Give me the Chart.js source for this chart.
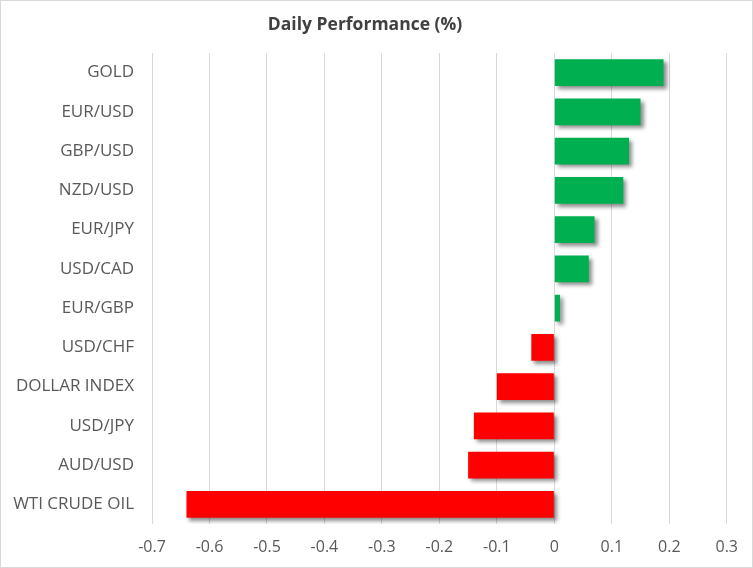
<!DOCTYPE html>
<html>
<head>
<meta charset="utf-8">
<script src="https://cdn.jsdelivr.net/npm/chart.js@4"></script>
<style>
  html, body { margin: 0; padding: 0; background: #fff; }
  #wrap { width: 751px; height: 566px; border: 1px solid #d9d9d9; position: relative; }
</style>
</head>
<body>
<div id="wrap"><canvas id="graphicDaily"></canvas></div>
<script>
// Daily Performance (%) - barras horizontales

const categories = ['GOLD', 'EUR/USD', 'GBP/USD', 'NZD/USD', 'EUR/JPY', 'USD/CAD',
  'EUR/GBP', 'USD/CHF', 'DOLLAR INDEX', 'USD/JPY', 'AUD/USD', 'WTI CRUDE OIL'];
const dailyChange = [0.19, 0.15, 0.13, 0.12, 0.07, 0.06, 0.01, -0.04, -0.10, -0.14, -0.15, -0.64];
const tickValues = [-0.7, -0.6, -0.5, -0.4, -0.3, -0.2, -0.1, 0, 0.1, 0.2, 0.3];

const green = '#00b050';
const red = '#ff0000';

// sombra de las barras
const barShadow = {
  id: 'barShadow',
  beforeDatasetsDraw(chart) {
    const ctx = chart.ctx;
    ctx.save();
    ctx.shadowColor = 'rgba(0,0,0,0.45)';
    ctx.shadowBlur = 4;
    ctx.shadowOffsetX = 3;
    ctx.shadowOffsetY = 3;
  },
  afterDatasetsDraw(chart) {
    chart.ctx.restore();
  }
};

let chart1;
function drawDaily(){
  var ctx = document.getElementById('graphicDaily').getContext('2d');
  if (chart1) {
    chart1.destroy();
  }
  chart1 = new Chart(ctx, {
    type: 'bar',
    data: {
      labels: categories,
      datasets: [{
        data: dailyChange,
        backgroundColor: dailyChange.map(v => v >= 0 ? green : red),
        borderWidth: 0,
        categoryPercentage: 1,
        barPercentage: 0.68
      }]
    },
    plugins: [barShadow],
    options: {
      indexAxis: 'y',
      responsive: true,
      maintainAspectRatio: false,
      animation: false,
      layout: { padding: { left: 0, right: 23, top: 0, bottom: 8 } },
      plugins: {
        legend: { display: false },
        tooltip: { enabled: false },
        title: {
          display: true,
          text: 'Daily Performance (%)',
          color: '#404040',
          font: { family: 'Open Sans', size: 17.5, weight: 'bold' },
          padding: { top: 14, bottom: 17 }
        }
      },
      scales: {
        x: {
          min: -0.7,
          max: 0.3,
          afterBuildTicks(scale) {
            scale.ticks = tickValues.map(v => ({ value: v }));
          },
          afterFit(scale) { scale.height = 35; },
          grid: { color: '#d9d9d9', lineWidth: 1, drawTicks: false },
          border: { display: false },
          ticks: {
            color: '#595959',
            padding: 14,
            font: { family: 'Open Sans', size: 16 },
            callback: function(v) {
              var r = Math.round(v * 10) / 10;
              return r === 0 ? '0' : r.toFixed(1);
            }
          }
        },
        y: {
          grid: { display: false, drawTicks: false },
          border: { display: false },
          afterFit(scale) { scale.width = 151; },
          ticks: {
            color: '#595959',
            padding: 18,
            font: { family: 'Open Sans', size: 17 }
          }
        }
      }
    }
  });
}

drawDaily();
</script>
</body>
</html>
